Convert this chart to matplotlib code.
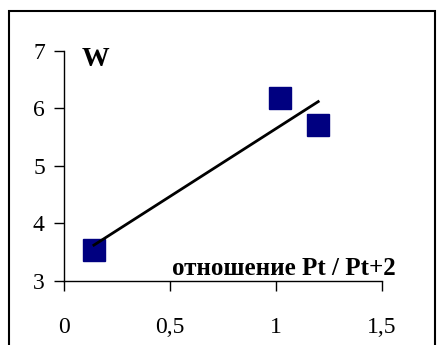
import matplotlib
matplotlib.use("Agg")
import matplotlib.pyplot as plt
from matplotlib.patches import Rectangle
import numpy as np

# Data
ratio = [0.14, 1.02, 1.20]
w_values = [3.54, 6.19, 5.71]
x_ticks = [0, 0.5, 1, 1.5]
x_tick_labels = ["0", "0,5", "1", "1,5"]
y_ticks = [3, 4, 5, 6, 7]

plt.rcParams['font.family'] = ['Liberation Serif', 'DejaVu Serif']

fig = plt.figure(figsize=(4.37, 3.45), dpi=100)
ax = fig.add_axes([0.1471, 0.1855, 0.7264, 0.6667])

# chart frame (Excel-style border, cut off at right/bottom)
fig.patches.append(Rectangle((9 / 437, -0.1), 426 / 437, 1 - 11 / 345 + 0.1,
                             transform=fig.transFigure, fill=False,
                             edgecolor='black', linewidth=1.5))

ax.plot(ratio, w_values, 's', color='#000080', markersize=15.5, zorder=3)

# linear trendline
k, b = np.polyfit(ratio, w_values, 1)
xt = np.array([min(ratio), max(ratio)])
ax.plot(xt, k * xt + b, color='black', linewidth=2.0, zorder=4)

ax.set_xlim(0, 1.5)
ax.set_ylim(3, 7)
ax.set_xticks(x_ticks)
ax.set_xticklabels(x_tick_labels)
ax.set_yticks(y_ticks)
ax.spines['top'].set_visible(False)
ax.spines['right'].set_visible(False)
for s in ['left', 'bottom']:
    ax.spines[s].set_linewidth(1.0)
ax.tick_params(axis='both', labelsize=17, length=7, width=1.0, direction='out')
ax.tick_params(axis='x', pad=19)
ax.tick_params(axis='y', pad=7)

ax.text(0.056, 0.935, "W", transform=ax.transAxes, fontsize=20,
        fontweight='bold', ha='left', va='baseline')
ax.text(1.045, 0.028, "отношение Pt / Pt+2", transform=ax.transAxes,
        fontsize=18, fontweight='bold', ha='right', va='baseline')

fig.savefig("out.png", dpi=100)
